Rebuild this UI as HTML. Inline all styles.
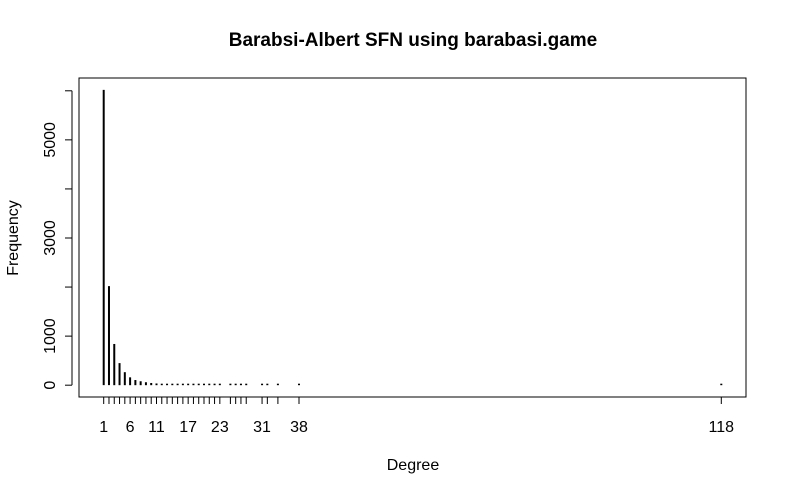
<!DOCTYPE html>
<html><head><meta charset="utf-8"><style>
body{margin:0;background:#fff}
svg{display:block;font-family:"Liberation Sans",sans-serif}
</style></head><body>
<svg id="c" width="787" height="495">
<text x="413" y="46" text-anchor="middle" font-size="19" font-weight="bold">Barabsi-Albert SFN using barabasi.game</text>
<rect x="79" y="78" width="667" height="319" fill="none" stroke="#000"/>
<text x="413" y="470" text-anchor="middle" font-size="16">Degree</text>
<text transform="translate(18,238) rotate(-90)" text-anchor="middle" font-size="16">Frequency</text>
<g id="g"></g>
</svg>
<script>
const degrees=[1,2,3,4,5,6,7,8,9,10,11,12,13,14,15,16,17,18,19,20,21,22,23,25,26,27,28,31,32,34,38,118];
const counts=[6020,2020,840,450,265,160,105,80,60,45,35,28,22,18,15,12,10,9,7,6,5,4,4,3,2,2,2,1,1,1,1,1];
const labelDegrees=[1,6,11,17,23,31,38,118];
const yTicks=[0,1000,2000,3000,4000,5000,6000];
const yLabels=[0,1000,3000,5000];
const NS="http://www.w3.org/2000/svg";
const g=document.getElementById('g');
const xMin=1-117*0.04,xMax=118+117*0.04;
const yMax=6020;
const X=v=>79+(v-xMin)/(xMax-xMin)*667;
const Y=v=>397-(v+yMax*0.04)/(yMax*1.08)*319;
function el(t,a){const e=document.createElementNS(NS,t);for(const k in a)e.setAttribute(k,a[k]);g.appendChild(e);return e;}
degrees.forEach((d,i)=>{
  const l=el('line',{x1:X(d),x2:X(d),y1:Y(0),y2:Math.min(Y(counts[i]),Y(0)-1.5),stroke:'#000','stroke-width':2});
  
  
  const t=el('line',{x1:X(d),x2:X(d),y1:397,y2:404,stroke:'#000'});
  
  
});
el('line',{x1:X(1),x2:X(118),y1:397,y2:397,stroke:'#000'});
labelDegrees.forEach(d=>{
  const t=el('text',{x:X(d),y:432,'text-anchor':'middle','font-size':16});
  t.textContent=d;
  
  
});
el('line',{x1:72,x2:72,y1:Y(0),y2:Y(6000),stroke:'#000'});
yTicks.forEach(v=>{
  const t=el('line',{x1:72,x2:65,y1:Y(v),y2:Y(v),stroke:'#000'});
  
  
});
yLabels.forEach(v=>{
  const t=el('text',{transform:`translate(55,${Y(v)}) rotate(-90)`,'text-anchor':'middle','font-size':16});
  t.textContent=v;
  
  
});
</script>
</body></html>
